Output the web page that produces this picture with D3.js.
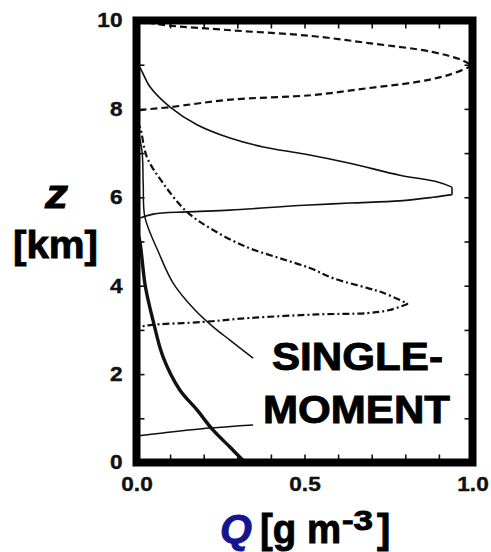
<!DOCTYPE html>
<html>
<head>
<meta charset="utf-8">
<script src="https://cdn.jsdelivr.net/npm/d3@7/dist/d3.min.js"></script>
<style>
  html, body { margin: 0; padding: 0; background: #fff; }
  svg { display: block; }
  svg text { font-family: "Liberation Sans", Arial, sans-serif; font-weight: bold; }
</style>
</head>
<body>
<svg id="chart" width="491" height="552"></svg>
<script>
// Profiles of mixing ratio Q [g m-3] against height z [km], as [Q, z] pairs
const dashedProfile = [
  [0.00, 10.0], [0.08, 9.90], [0.28, 9.78], [0.52, 9.65], [0.69, 9.49],
  [0.88, 9.29], [0.97, 9.10], [1.00, 8.98], [0.93, 8.77], [0.835, 8.61],
  [0.69, 8.47], [0.52, 8.31], [0.28, 8.21], [0.10, 8.04], [0.01, 7.97], [0.00, 7.95]
];
const upperSolidProfile = [
  [0.00, 9.0], [0.01, 8.93], [0.04, 8.5], [0.10, 8.04], [0.18, 7.64],
  [0.278, 7.34], [0.377, 7.14], [0.50, 6.98], [0.635, 6.77], [0.784, 6.5],
  [0.894, 6.35], [0.939, 6.23], [0.939, 6.06], [0.882, 6.0], [0.784, 5.92],
  [0.635, 5.87], [0.50, 5.82], [0.278, 5.71], [0.15, 5.67], [0.05, 5.62],
  [0.01, 5.53], [0.00, 5.5]
];
const dashDotProfile = [
  [0.00, 7.7], [0.01, 7.59], [0.031, 6.91], [0.079, 6.32], [0.15, 5.67],
  [0.228, 5.26], [0.329, 4.87], [0.427, 4.62], [0.516, 4.40], [0.585, 4.17],
  [0.686, 3.95], [0.734, 3.84], [0.808, 3.59], [0.754, 3.45], [0.686, 3.38],
  [0.537, 3.35], [0.338, 3.27], [0.198, 3.18], [0.04, 3.11], [0.01, 3.07], [0.00, 3.05]
];
const middleSolidProfile = [
  [0.00, 7.6], [0.016, 7.07], [0.02, 6.3], [0.025, 5.55], [0.066, 4.75],
  [0.109, 4.06], [0.174, 3.45], [0.228, 3.07], [0.278, 2.77], [0.347, 2.36]
];
const thickProfile = [
  [0.00, 5.3], [0.01, 5.0], [0.026, 4.0], [0.049, 3.22], [0.079, 2.39],
  [0.129, 1.64], [0.18, 1.19], [0.228, 0.73], [0.278, 0.35], [0.323, 0.0]
];
const lowSolidProfile = [
  [0.00, 0.60], [0.079, 0.67], [0.219, 0.78], [0.347, 0.85]
];

// Axis ticks and labels
const qTicks = [0.0, 0.1, 0.2, 0.3, 0.4, 0.5, 0.6, 0.7, 0.8, 0.9, 1.0];
const qLabels = [0.0, 0.5, 1.0];
const zTicks = [0, 1, 2, 3, 4, 5, 6, 7, 8, 9, 10];
const zLabels = [0, 2, 4, 6, 8, 10];
const panelText = ["SINGLE-", "MOMENT"];

const svg = d3.select("#chart");
const x = d3.scaleLinear().domain([0, 1]).range([136.5, 472.5]);
const y = d3.scaleLinear().domain([0, 10]).range([462.5, 20.5]);

const ink = "#111";

// Smooth branches joined at a sharp tip: the points of largest Q are
// connected with straight segments, everything else with a Catmull-Rom curve.
const smooth = d3.line().x(d => x(d[0])).y(d => y(d[1])).curve(d3.curveCatmullRom.alpha(0.5));
const straight = d3.line().x(d => x(d[0])).y(d => y(d[1]));
function profilePath(data) {
  const qMax = d3.max(data, d => d[0]);
  const first = data.findIndex(d => d[0] === qMax);
  let last = first;
  while (last + 1 < data.length && data[last + 1][0] === qMax) last++;
  if (first === data.length - 1) return smooth(data);
  let p = smooth(data.slice(0, first + 1));
  if (last > first) p += straight(data.slice(first, last + 1));
  p += smooth(data.slice(last));
  return p;
}

const series = [
  { data: dashedProfile, width: 2.2, dash: "7,4" },
  { data: upperSolidProfile, width: 1.6, dash: null },
  { data: dashDotProfile, width: 2.2, dash: "7,3,2,3" },
  { data: middleSolidProfile, width: 1.5, dash: null },
  { data: thickProfile, width: 3.4, dash: null },
  { data: lowSolidProfile, width: 1.5, dash: null }
];
svg.append("g").selectAll("path").data(series).join("path")
  .attr("d", d => profilePath(d.data))
  .attr("fill", "none")
  .attr("stroke", ink)
  .attr("stroke-width", d => d.width)
  .attr("stroke-linejoin", "miter")
  .attr("stroke-dasharray", d => d.dash);

// Axes: inward ticks on all four sides
function styleAxis(g) {
  g.attr("font-family", null).attr("font-size", null);
  g.select(".domain").remove();
  g.selectAll(".tick line").attr("stroke", ink).attr("stroke-width", 1.6);
  g.selectAll(".tick text")
    .attr("fill", "#111")
    .attr("stroke", "#111").attr("stroke-width", 0.4)
    .style("font-size", "20px");
}
const qFmt = d => qLabels.some(v => Math.abs(v - d) < 1e-9) ? d3.format(".1f")(d) : "";
const zFmt = d => zLabels.includes(d) ? String(d) : "";

svg.append("g").attr("transform", `translate(0,${y(0)})`)
  .call(d3.axisBottom(x).tickValues(qTicks).tickSize(-8).tickPadding(14).tickFormat(qFmt))
  .call(styleAxis);
svg.append("g").attr("transform", `translate(0,${y(10)})`)
  .call(d3.axisTop(x).tickValues(qTicks).tickSize(-8).tickFormat(""))
  .call(styleAxis);
svg.append("g").attr("transform", `translate(${x(0)},0)`)
  .call(d3.axisLeft(y).tickValues(zTicks).tickSize(-8).tickPadding(14).tickFormat(zFmt))
  .call(styleAxis);
svg.append("g").attr("transform", `translate(${x(1)},0)`)
  .call(d3.axisRight(y).tickValues(zTicks).tickSize(-8).tickFormat(""))
  .call(styleAxis);

// Widen the bold tick labels slightly
svg.selectAll(".tick text").each(function () {
  const w = this.getComputedTextLength();
  if (w > 0) d3.select(this).attr("textLength", w * 1.13).attr("lengthAdjust", "spacingAndGlyphs");
});

// Heavy frame
svg.append("rect")
  .attr("x", x(0)).attr("y", y(10))
  .attr("width", x(1) - x(0)).attr("height", y(0) - y(10))
  .attr("fill", "none").attr("stroke", "#000").attr("stroke-width", 8);

function bigText(str, px, py, size, len) {
  const t = svg.append("text").text(str)
    .attr("x", px).attr("y", py)
    .attr("fill", "#000").attr("stroke", "#000").attr("stroke-width", 0.9)
    .style("font-size", size + "px");
  if (len) t.attr("textLength", len).attr("lengthAdjust", "spacingAndGlyphs");
  return t;
}

// Panel label
bigText(panelText[0], 272, 370, 38, 171);
bigText(panelText[1], 263, 423, 38, 187);

// Vertical axis title
bigText("z", 45, 208, 40, 23).style("font-style", "italic");
bigText("[km]", 13, 258, 39, 85);

// Horizontal axis title
bigText("Q", 220, 543, 41, null).style("font-style", "italic")
  .attr("fill", "#15158f").attr("stroke", "#15158f");
bigText("[g m", 260, 543, 40, 81);
bigText("-3", 342, 530, 27, 31);
bigText("]", 377, 543, 40, null);
</script>
</body>
</html>
